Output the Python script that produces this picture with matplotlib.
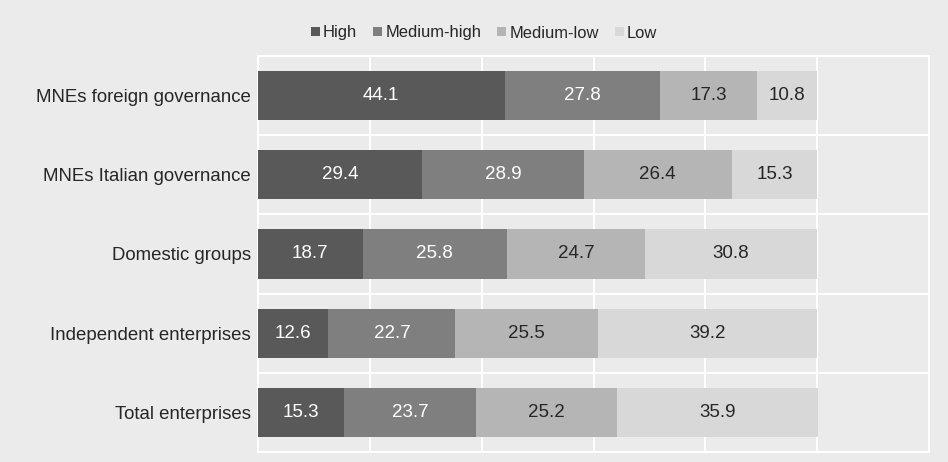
import matplotlib
matplotlib.use("Agg")
import matplotlib.pyplot as plt
import numpy as np

plt.rcParams['font.family'] = ['Liberation Sans', 'DejaVu Sans']

categories = ["MNEs foreign governance", "MNEs Italian governance", "Domestic groups",
              "Independent enterprises", "Total enterprises"]
series_names = ["High", "Medium-high", "Medium-low", "Low"]
high = [44.1, 29.4, 18.7, 12.6, 15.3]
medium_high = [27.8, 28.9, 25.8, 22.7, 23.7]
medium_low = [17.3, 26.4, 24.7, 25.5, 25.2]
low = [10.8, 15.3, 30.8, 39.2, 35.9]

series = [high, medium_high, medium_low, low]
colors = ["#595959", "#7f7f7f", "#b5b5b5", "#d8d8d8"]
text_colors = ["white", "white", "#262626", "#262626"]

bg = "#ebebeb"
fig = plt.figure(figsize=(9.48, 4.62), dpi=100, facecolor=bg)
ax = fig.add_axes([258 / 948, 1 - 452 / 462, (929 - 258) / 948, (452 - 56) / 462])
ax.set_facecolor(bg)

y = np.arange(len(categories))
left = np.zeros(len(categories))
for vals, name, c, tc in zip(series, series_names, colors, text_colors):
    vals = np.array(vals)
    ax.barh(y, vals, left=left, height=0.62, color=c, label=name, zorder=3)
    for yi, l, v in zip(y, left, vals):
        ax.text(l + v / 2, yi, f"{v:.1f}", ha="center", va="center",
                color=tc, fontsize=13.5, zorder=4)
    left += vals

ax.set_xlim(0, 120)
ax.set_ylim(len(categories) - 0.5, -0.5)
ax.set_xticks(np.arange(0, 121, 20))
ax.set_yticks(y)
ax.set_yticklabels(categories, fontsize=13.4, color="#262626")
ax.tick_params(axis="x", length=0, labelbottom=False)
ax.tick_params(axis="y", length=0, pad=5)
ax.xaxis.grid(True, color="white", linewidth=1.5, zorder=1)
ax.set_yticks(np.arange(-0.5, len(categories), 1), minor=True)
ax.yaxis.grid(True, which="minor", color="white", linewidth=1.5, zorder=1)
ax.tick_params(axis="y", which="minor", length=0)
for s in ax.spines.values():
    s.set_color("white")
    s.set_linewidth(1.5)

handles, labels = ax.get_legend_handles_labels()
fig.legend(handles, labels, loc="center", bbox_to_anchor=(484 / 948, 1 - 33 / 462),
           ncol=4, frameon=False, fontsize=11.9, handlelength=0.55, handleheight=0.42,
           handletextpad=0.18, columnspacing=0.97, labelcolor="#262626")

fig.savefig("out.png", dpi=100, facecolor=bg)
